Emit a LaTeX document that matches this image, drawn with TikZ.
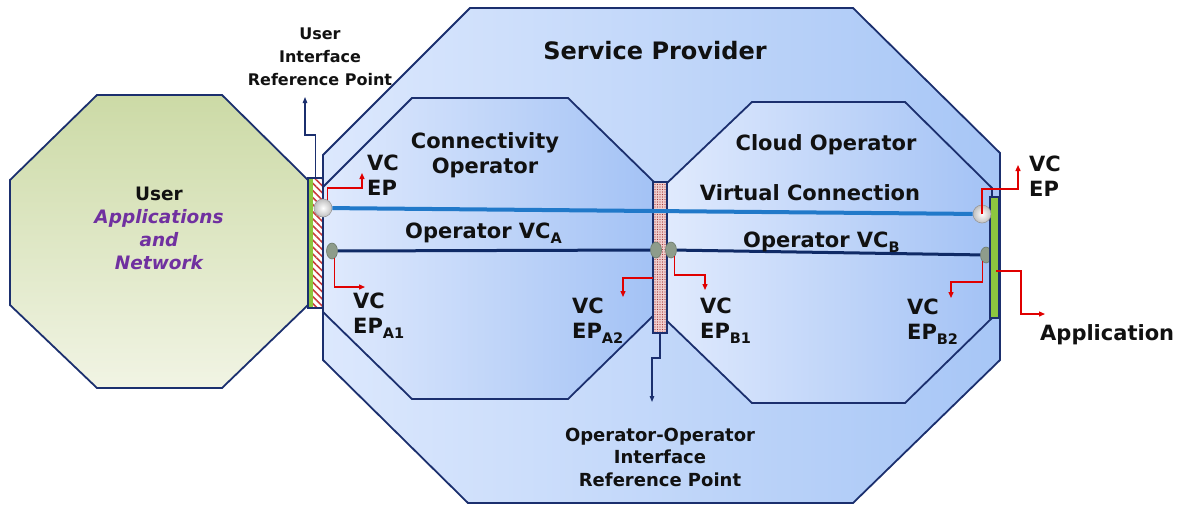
\documentclass[tikz,border=0pt]{standalone}
\usepackage{fontspec}
\setmainfont{DejaVu Sans}
\usetikzlibrary{shapes.geometric,arrows.meta,patterns,patterns.meta}
\definecolor{navy}{HTML}{1B2F6E}
\definecolor{vcblue}{HTML}{2179C9}
\definecolor{opnavy}{HTML}{0F2A66}
\definecolor{redarrow}{HTML}{E00000}
\definecolor{upurple}{HTML}{7030A0}
\definecolor{barGreen}{HTML}{8DC63F}
\definecolor{spL}{HTML}{DCE8FD}
\definecolor{spR}{HTML}{A7C6F6}
\definecolor{inL}{HTML}{E0EAFD}
\definecolor{inR}{HTML}{A3C2F5}
\definecolor{usT}{HTML}{CCDAA6}
\definecolor{usB}{HTML}{F1F4E4}
\definecolor{grayF}{HTML}{8E9C8B}
\definecolor{grayD}{HTML}{6D7A6B}
\definecolor{hatchRed}{HTML}{C83C3C}
\definecolor{pinkbg}{HTML}{F0CFCF}
\definecolor{dotRed}{HTML}{A83838}
\definecolor{txt}{HTML}{111111}
\newcommand{\lowsub}[1]{\raisebox{-0.28em}{\fontsize{14.5}{14.5}\selectfont #1}}
\begin{document}
\begin{tikzpicture}[x=1pt,y=-1pt,
  oct/.style={draw=navy, line width=1.8pt, line join=miter},
  barbox/.style={draw=navy, line width=1.2pt, inner sep=0pt, rectangle},
  wcirc/.style={circle, draw=black!40, line width=0.6pt, inner color=white, outer color=black!25, minimum size=18pt, inner sep=0pt},
  gell/.style={ellipse, draw=grayD, line width=0.6pt, fill=grayF, minimum width=11pt, minimum height=16pt, inner sep=0pt},
  vcline/.style={draw=vcblue, line width=4pt},
  opline/.style={draw=opnavy, line width=3pt},
  redarr/.style={draw=redarrow, line width=1.3pt, -{Triangle[length=6pt,width=5pt]}},
  navarr/.style={draw=navy, line width=1.2pt, -{Triangle[length=6pt,width=4.5pt]}},
  bigt/.style={font=\bfseries\fontsize{21}{25}\selectfont, text=txt, inner sep=0pt},
  smallt/.style={font=\bfseries\fontsize{18}{22.5}\selectfont, text=txt, inner sep=0pt, align=center},
  uit/.style={font=\bfseries\fontsize{16}{23}\selectfont, text=txt, inner sep=0pt, align=center},
  usert/.style={font=\bfseries\fontsize{18.5}{23}\selectfont, text=txt, inner sep=0pt, align=center}
]
\useasboundingbox (0,0) rectangle (1185,507);
% Service provider octagon
\draw[oct, left color=spL, right color=spR] (470,8) -- (853,8) -- (1000,153) -- (1000,360) -- (853,503) -- (468,503) -- (323,360) -- (323,155) -- cycle;
% Connectivity operator octagon
\draw[oct, left color=inL, right color=inR] (412,98) -- (568,98) -- (654,182) -- (654,315) -- (568,399) -- (412,399) -- (323,312) -- (323,187) -- cycle;
% Cloud operator octagon
\draw[oct, left color=inL, right color=inR] (752,102) -- (905,102) -- (992,188) -- (992,318) -- (905,403) -- (752,403) -- (666,320) -- (666,184) -- cycle;
% User octagon
\draw[oct, top color=usT, bottom color=usB] (97,95) -- (222,95) -- (308,180) -- (308,305) -- (222,388) -- (97,388) -- (10,305) -- (10,180) -- cycle;

% left interface bar
\fill[barGreen] (309,179) rectangle (313,307);
\fill[white] (313,179) rectangle (322,307);
\fill[pattern={Lines[angle=-45,distance=5pt,line width=1.6pt]}, pattern color=hatchRed] (313,179) rectangle (322,307);
\node[barbox, minimum width=15pt, minimum height=130pt] (lbar) at (315.5,243) {};

% operator-operator interface bar
\node[barbox, minimum width=14pt, minimum height=151pt, preaction={fill=pinkbg}, pattern={Dots[distance=2.5pt,radius=0.7pt]}, pattern color=dotRed] (obar) at (660,257.5) {};

% end points
\node[gell] (gB2) at (986,255) {};
\node[barbox, fill=barGreen, minimum width=9pt, minimum height=121pt] (rbar) at (994.5,257.5) {};
\node[wcirc] (wL) at (323,208) {};
\node[wcirc] (wR) at (982,214) {};
\node[gell] (gA1) at (332,251) {};
\node[gell] (gA2) at (656,250) {};
\node[gell] (gB1) at (671,250) {};
\coordinate (a2s) at (653,278);
\coordinate (appS) at (996,271);

% connections
\draw[vcline] (wL) -- (wR);
\draw[opline] (gA1) -- (gA2);
\draw[opline] (gB1) -- (gB2);

% red arrows
\draw[redarr] (wL.60) |- (362,188) -- (362,173);
\draw[redarr] (gA1.-70) |- (365,287);
\draw[redarr] (a2s) -| (623,297);
\draw[redarr] (gB1.-60) |- (705,275) -- (705,290);
\draw[redarr] (gB2.-120) |- (951,282) -- (951,298);
\draw[redarr] (wR.center) |- (1018,189) -- (1018,165);
\draw[redarr] (appS) -| (1021,314) -- (1045,314);

% navy arrows
\draw[navarr] (lbar.north) |- (305,135) -- (305,97);
\draw[navarr] (obar.south) |- (652,358) -- (652,402);

% texts (base anchor = baseline of the last line)
\node[font=\bfseries\fontsize{24}{28}\selectfont, text=txt, inner sep=0pt, anchor=base] (sp) at (655,59) {Service Provider};
\node[uit, anchor=base] (uirp) at (320,85) {User\\Interface\\Reference Point};
\node[bigt, align=center, anchor=base] (conn) at (485,173) {Connectivity\\Operator};
\node[bigt, anchor=base] (cloud) at (826,150) {Cloud Operator};
\node[bigt, anchor=base] (vct) at (810,200) {Virtual Connection};
\node[bigt, anchor=base west] (opa) at (405,238) {Operator VC\lowsub{A}};
\node[bigt, anchor=base west] (opb) at (743,247) {Operator VC\lowsub{B}};
\node[bigt, align=left, anchor=base west] (ep1) at (367,195) {VC\\EP};
\node[bigt, align=left, anchor=base west] (epa1) at (353,333) {VC\\EP\lowsub{A1}};
\node[bigt, align=left, anchor=base west] (epa2) at (572,338) {VC\\EP\lowsub{A2}};
\node[bigt, align=left, anchor=base west] (epb1) at (700,338) {VC\\EP\lowsub{B1}};
\node[bigt, align=left, anchor=base west] (epb2) at (907,339) {VC\\EP\lowsub{B2}};
\node[bigt, align=left, anchor=base west] (ep2) at (1029,196) {VC\\EP};
\node[bigt, anchor=base west] (app) at (1040,340) {Application};
\node[smallt, anchor=base] (oorp) at (660,486) {Operator-Operator\\Interface\\Reference Point};
\node[usert, anchor=base] (user) at (159,269) {User\\{\color{upurple}\itshape Applications}\\{\color{upurple}\itshape and}\\{\color{upurple}\itshape Network}};
\end{tikzpicture}
\end{document}
